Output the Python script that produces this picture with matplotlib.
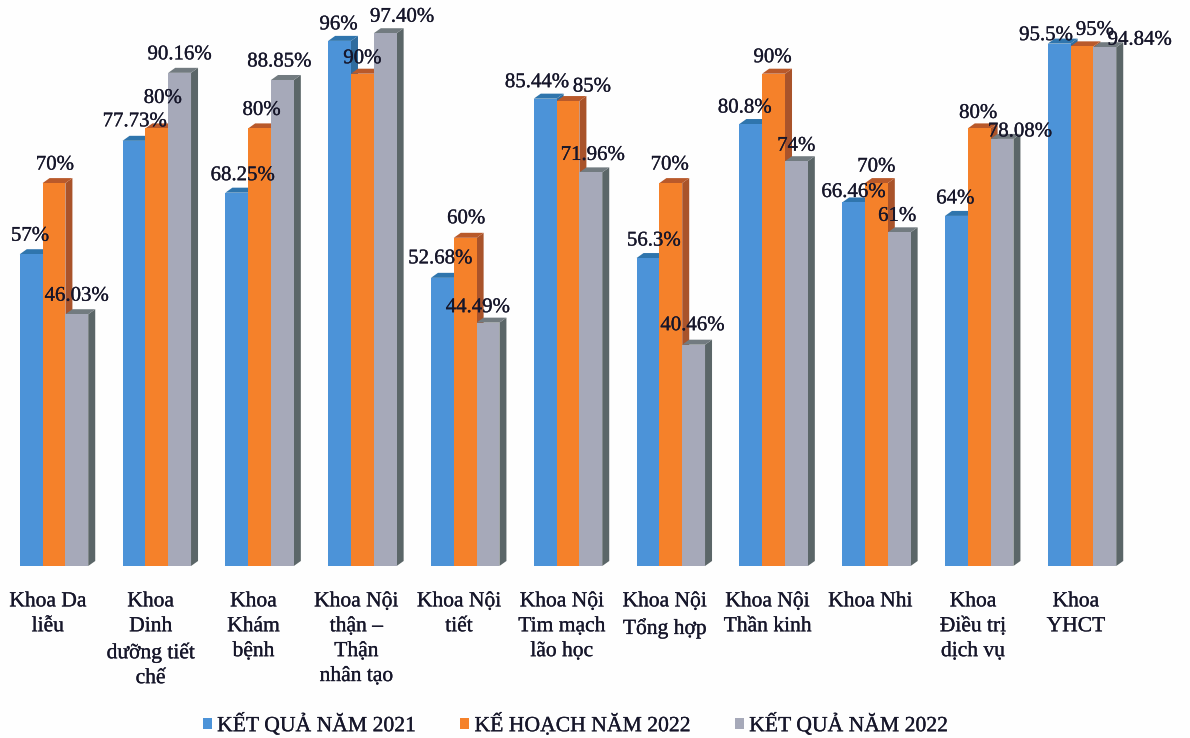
import matplotlib
matplotlib.use('Agg')
import matplotlib.pyplot as plt
import matplotlib.patheffects as pe
from matplotlib.patches import Polygon
from matplotlib.text import Text

plt.rcParams['font.family'] = ['Liberation Serif', 'DejaVu Serif']

# khoa names, one per group of bars
categories = ['Khoa Da\nliễu', 'Khoa\nDinh\ndưỡng tiết\nchế', 'Khoa\nKhám\nbệnh',
              'Khoa Nội\nthận –\nThận\nnhân tạo', 'Khoa Nội\ntiết',
              'Khoa Nội\nTim mạch\nlão học', 'Khoa Nội\nTổng hợp',
              'Khoa Nội\nThần kinh', 'Khoa Nhi', 'Khoa\nĐiều trị\ndịch vụ', 'Khoa\nYHCT']

ket_qua_2021 = [57, 77.73, 68.25, 96, 52.68, 85.44, 56.3, 80.8, 66.46, 64, 95.5]
ke_hoach_2022 = [70, 80, 80, 90, 60, 85, 70, 90, 70, 80, 95]
ket_qua_2022 = [46.03, 90.16, 88.85, 97.40, 44.49, 71.96, 40.46, 74, 61, 78.08, 94.84]

labels_2021 = ['57%', '77.73%', '68.25%', '96%', '52.68%', '85.44%', '56.3%', '80.8%', '66.46%', '64%', '95.5%']
labels_plan = ['70%', '80%', '80%', '90%', '60%', '85%', '70%', '90%', '70%', '80%', '95%']
labels_2022 = ['46.03%', '90.16%', '88.85%', '97.40%', '44.49%', '71.96%', '40.46%', '74%', '61%', '78.08%', '94.84%']

# label nudges in pixels (right, up), the crowded ones were placed by hand
nudge_2021 = [(-1, 2), (1, 3), (6, 1), (-1, 0), (-2, 3), (-8, 0), (6, 1), (-6, 0), (0, -6), (-1, 1), (-13, -8)]
nudge_plan = [(1, 2), (6, 14), (2, 2), (0, -1), (1, 3), (24, -2), (-1, 2), (-1, 0), (0, 0), (-1, -1), (13, 0)]
nudge_2022 = [(0, 2), (0, 2), (-3, 2), (17, 0), (-10, -1), (2, 1), (-1, 3), (0, -1), (-2, 0), (18, -9), (35, -9)]

series = [
    ('KẾT QUẢ NĂM 2021', ket_qua_2021, labels_2021, nudge_2021, '#4c93d8', '#2f6c9e', '#2f75ad'),
    ('KẾ HOẠCH NĂM 2022', ke_hoach_2022, labels_plan, nudge_plan, '#f5812a', '#a9532a', '#b9592a'),
    ('KẾT QUẢ NĂM 2022', ket_qua_2022, labels_2022, nudge_2022, '#a6a9b9', '#5b6668', '#727b80'),
]

fig = plt.figure(figsize=(11.9, 7.38), dpi=100, facecolor='#fefefe')
ax = fig.add_axes([0, 172 / 738, 1, 566 / 738])
ax.set_facecolor('none')

px_per_group = 102.8
px_per_pct = 5.47
ax.set_xlim(-54 / px_per_group, (1190 - 54) / px_per_group)
ax.set_ylim(0, 566 / px_per_pct)

bar_w = 0.222
dx = 7 / px_per_group
dy = 5 / px_per_pct
text_color = '#16162a'

handles = []
for s, (name, values, labels, nudges, color, side_color, top_color) in enumerate(series):
    xs = [i + (s - 1) * bar_w for i in range(len(values))]
    bars = ax.bar(xs, values, width=bar_w, color=color, linewidth=0, zorder=3)
    handles.append(bars[0])
    for x, v, lab, (nx, ny) in zip(xs, values, labels, nudges):
        r = x + bar_w / 2
        l = x - bar_w / 2
        # fake 3D: right side face and top face behind the front
        ax.add_patch(Polygon([(r, 0), (r + dx, dy), (r + dx, v + dy), (r, v)],
                             facecolor=side_color, linewidth=0, zorder=1 + s * 0.1))
        ax.add_patch(Polygon([(l, v), (l + dx, v + dy), (r + dx, v + dy), (r, v)],
                             facecolor=top_color, linewidth=0, zorder=2 + s * 0.1))
        ax.annotate(lab, (x, v), xytext=(nx * 0.72, (16 + ny) * 0.72), textcoords='offset points',
                    ha='center', va='center', fontsize=15, color=text_color, zorder=5)

# tick labels start just under the baseline
ax.set_xticks([i - 0.06 for i in range(len(categories))])
ax.set_xticklabels(categories, fontsize=15.5, color=text_color, linespacing=1.42)
ax.tick_params(axis='x', length=0, pad=19)
ax.set_yticks([])
for spine in ax.spines.values():
    spine.set_visible(False)

leg = fig.legend(handles, [s[0] for s in series], loc='lower center', ncol=3, frameon=False,
                 bbox_to_anchor=(0.4835, -0.024), fontsize=15.6, handlelength=0.42, handleheight=0.45,
                 handletextpad=0.25, columnspacing=2.02, labelcolor=text_color)

# thicken the serif text a little
for t in fig.findobj(Text):
    t.set_path_effects([pe.withStroke(linewidth=0.2, foreground=text_color)])

fig.savefig('out.png', dpi=100, facecolor=fig.get_facecolor())
